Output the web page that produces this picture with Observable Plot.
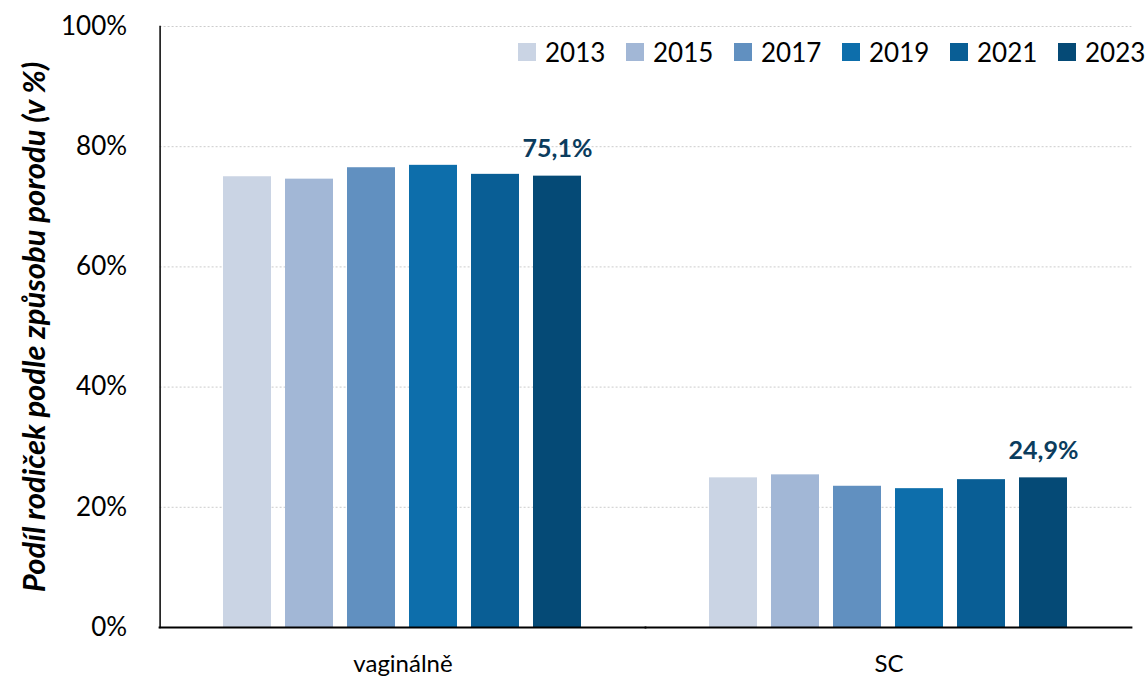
<!DOCTYPE html>
<html>
<head>
<meta charset="utf-8">
<script src="https://cdn.jsdelivr.net/npm/d3@7"></script>
<script src="https://cdn.jsdelivr.net/npm/@observablehq/plot@0.6"></script>
<style>
  html, body { margin: 0; padding: 0; background: #fff; }
  #wrap { position: relative; width: 1145px; height: 678px; font-family: Lato, "Open Sans", sans-serif; overflow: hidden; }
  #legend { position: absolute; left: 518px; top: 37px; display: flex; }
  .item { display: flex; align-items: center; width: 108px; height: 30px; }
  .item:last-child { width: auto; }
  .sw { width: 18px; height: 18px; margin-right: 9px; }
  .lbl { font-size: 26px; color: #000; }
</style>
</head>
<body>
<div id="wrap"><div id="legend"></div></div>
<script>
const categories = ["vaginálně", "SC"];
const years = ["2013", "2015", "2017", "2019", "2021", "2023"];
const vaginalValues = [75.0, 74.6, 76.5, 76.9, 75.4, 75.1];
const scValues = [24.9, 25.4, 23.5, 23.1, 24.6, 24.9];
const yearColors = ["#cad4e4", "#a2b7d6", "#6190c0", "#0d6eab", "#095e95", "#054a76"];
const yTicks = [0, 20, 40, 60, 80, 100];
const yTitle = "Podíl rodiček podle způsobu porodu (v %)";
const labelYear = "2023";

const seriesByCat = {"vaginálně": vaginalValues, "SC": scValues};
const data = categories.flatMap(c => years.map((y, i) => ({cat: c, year: y, value: seriesByCat[c][i]})));
const fmt = v => v.toFixed(1).replace(".", ",") + "%";

const ext = -56.4; // facet outer padding in px: extend rules to the plot frame

const chart = Plot.plot({
  width: 1145,
  height: 678,
  marginTop: 26,
  marginBottom: 51,
  marginLeft: 160,
  marginRight: 13,
  style: {fontFamily: "Lato, 'Open Sans', sans-serif", fontSize: "24px", color: "#000", background: "#fff"},
  fx: {domain: categories, paddingInner: 0.232, paddingOuter: 0.116, label: null},
  x: {domain: years, paddingInner: 0.218, paddingOuter: 0.109, axis: null},
  y: {domain: [0, 100], label: null},
  color: {domain: years, range: yearColors},
  marks: [
    Plot.ruleY(yTicks.slice(1), {stroke: "#cccccc", strokeWidth: 1, strokeDasharray: "2,2", insetLeft: ext, insetRight: ext}),
    Plot.barY(data, {fx: "cat", x: "year", y: "value", fill: "year"}),
    Plot.text(data.filter(d => d.year === labelYear), {
      fx: "cat", x: "year", y: "value", text: d => fmt(d.value),
      lineAnchor: "bottom", dy: -19, fontWeight: "bold", fontSize: 25, fill: "#0b3c5d"
    }),
    Plot.axisY({ticks: yTicks, tickSize: 0, tickPadding: 33 - ext, tickFormat: d => d + "%", fontSize: 26, label: null}),
    Plot.axisFx({anchor: "bottom", tickSize: 0, tickPadding: 27, fontSize: 24, label: null}),
    Plot.text([yTitle], {
      facet: "super", frameAnchor: "left", text: d => d, rotate: -90, dx: -125 + ext,
      textAnchor: "middle", lineAnchor: "middle", fontWeight: "bold", fontStyle: "italic", fontSize: 31, fill: "#000"
    }),
    Plot.frame({facet: "super", anchor: "left", stroke: "#000", strokeWidth: 1.5, dx: ext}),
    Plot.ruleY([0], {stroke: "#000", strokeWidth: 2, insetLeft: ext - 1, insetRight: ext - 1})
  ]
});

document.getElementById("wrap").prepend(chart);

const colorScale = chart.scale("color");
const legend = d3.select("#legend");
years.forEach(y => {
  const it = legend.append("div").attr("class", "item");
  it.append("div").attr("class", "sw").style("background", colorScale.apply(y));
  it.append("div").attr("class", "lbl").text(y);
});
</script>
</body>
</html>
